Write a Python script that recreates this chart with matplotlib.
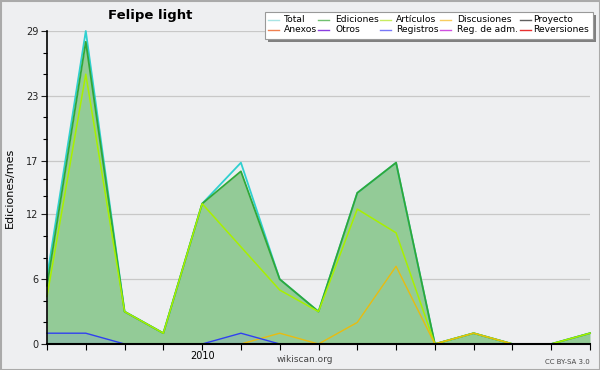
import matplotlib
matplotlib.use("Agg")
import matplotlib.pyplot as plt
from matplotlib.patches import Rectangle
from matplotlib.lines import Line2D
import numpy as np

months = list(range(15))
tick_labels = ["", "", "", "", "2010", "", "", "", "", "", "", "", "", "", ""]
total = [6.2, 29, 3, 1, 13, 16.8, 6, 3, 14, 16.8, 0, 1, 0, 0, 1]
ediciones = [5.4, 28, 3, 1, 13, 16, 6, 3, 14, 16.8, 0, 1, 0, 0, 1]
articulos = [4.4, 25, 3, 1, 13, 9, 5, 3, 12.5, 10.3, 0, 1, 0, 0, 1]
discusiones = [0, 0, 0, 0, 0, 0, 1, 0, 2, 7.2, 0, 1, 0, 0, 0]
registros = [1, 1, 0, 0, 0, 1, 0, 0, 0, 0, 0, 0, 0, 0, 0]
yticks = [0, 6, 12, 17, 23, 29]

legend_names = ["Total", "Anexos", "Ediciones", "Otros", "Artículos", "Registros",
                "Discusiones", "Reg. de adm.", "Proyecto", "Reversiones"]
legend_colors = ["#a8e4e4", "#f08050", "#70c070", "#8a3ee0", "#c8ec60", "#7878f8",
                 "#f8cc60", "#d050e0", "#606060", "#e83030"]

bg = "#eeeff1"
fig = plt.figure(figsize=(6, 3.7), dpi=100, facecolor=bg)
ax = fig.add_axes([47/600, 1-344/370, 543/600, 313/370], facecolor=bg)

x = np.array(months)
ax.fill_between(x, ediciones, 0, color="#93cb97", lw=0, zorder=2)
ax.fill_between(x, registros, 0, color="#8ab8b0", lw=0, zorder=2.1, alpha=0.6)
ax.plot(x, total, color="#30d0d0", lw=1.3, zorder=3, clip_on=False)
ax.plot(x, ediciones, color="#30a838", lw=1.3, zorder=4, clip_on=False)
ax.plot(x, articulos, color="#a8f000", lw=1.1, zorder=5, clip_on=False)
ax.plot(x, discusiones, color="#e8bc10", lw=1.0, zorder=6, clip_on=False)
ax.plot(x, registros, color="#3040f0", lw=1.0, zorder=6, clip_on=False)

ax.set_xlim(0, 14)
ax.set_ylim(0, 29)
ax.set_xticks(months)
ax.set_xticklabels(tick_labels, fontsize=7)
ax.set_yticks(yticks)
ax.set_yticklabels([str(v) for v in yticks], fontsize=7)
minors = []
for a, b in zip(yticks[:-1], yticks[1:]):
    minors += [a + (b - a) / 3, a + 2 * (b - a) / 3]
ax.set_yticks(minors, minor=True)
ax.tick_params(axis="y", which="major", length=4, width=0.8, pad=2, colors="#222222")
ax.tick_params(axis="y", which="minor", length=3, width=0.8)
ax.tick_params(axis="x", length=4, width=0.8, pad=1)
for v in yticks[1:]:
    ax.axhline(v, color="#c8c8c8", lw=0.9, zorder=1)
for s in ["top", "right"]:
    ax.spines[s].set_visible(False)
ax.spines["left"].set_linewidth(1.2)
ax.spines["bottom"].set_linewidth(1.5)
ax.spines["left"].set_zorder(7)
ax.spines["bottom"].set_zorder(7)

ax.set_ylabel("Ediciones/mes", fontsize=8, labelpad=8)
fig.text(150/600, 1-15/370, "Felipe light", fontsize=9.5, fontweight="bold",
         ha="center", va="center")
fig.text(305/600, 1-360/370, "wikiscan.org", fontsize=6.5, color="#444444",
         ha="center", va="center")
fig.text(590/600, 1-362/370, "CC BY-SA 3.0", fontsize=5, color="#444444",
         ha="right", va="center")

# legend
lx0, ly0, lw_, lh = 265, 12, 328, 27
fig.patches.append(Rectangle(((lx0 + 3)/600, 1-(ly0+lh+3)/370), lw_/600, lh/370,
                             transform=fig.transFigure, facecolor="#808080",
                             edgecolor="none", zorder=10))
fig.patches.append(Rectangle((lx0/600, 1-(ly0+lh)/370), lw_/600, lh/370,
                             transform=fig.transFigure, facecolor="white",
                             edgecolor="#999999", lw=0.8, zorder=11))
line_x = [268, 318, 380, 440, 520]
text_x = [284, 335, 396, 457, 533]
rowy = [19.5, 30]
for i, (name, col) in enumerate(zip(legend_names, legend_colors)):
    c = i // 2
    r = i % 2
    yy = 1 - rowy[r]/370
    fig.lines.append(Line2D([line_x[c]/600, (line_x[c]+11)/600], [yy, yy],
                            transform=fig.transFigure, color=col, lw=1, zorder=12))
    fig.text(text_x[c]/600, yy, name, fontsize=6.6, va="center", ha="left", zorder=12)

fig.patches.append(Rectangle((0.5/600, 0.5/370), 599/600, 369/370, transform=fig.transFigure,
                             facecolor="none", edgecolor="#aaaaaa", lw=1.5, zorder=20))

fig.savefig("out.png", dpi=100, facecolor=bg)
